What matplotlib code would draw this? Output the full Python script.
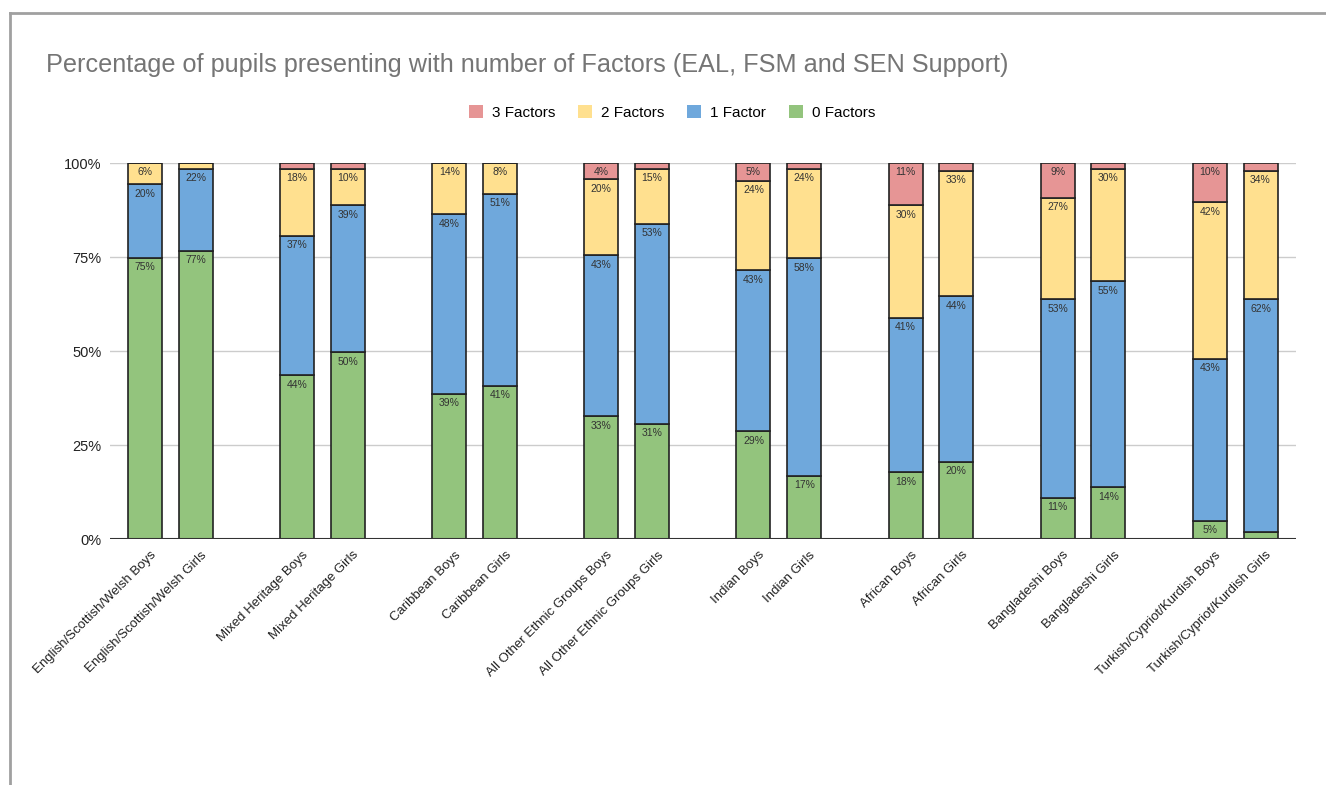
import numpy as np
import matplotlib.pyplot as plt
from matplotlib.lines import Line2D
from matplotlib.patches import Patch

plt.rcParams['font.family'] = ['Liberation Sans', 'DejaVu Sans']

# pupils groups, boys and girls side by side
groups = ["English/Scottish/Welsh", "Mixed Heritage", "Caribbean",
          "All Other Ethnic Groups", "Indian", "African", "Bangladeshi",
          "Turkish/Cypriot/Kurdish"]
labels = [g + " " + s for g in groups for s in ("Boys", "Girls")]

# percentages (bottom to top)
zero_factors = [74.8, 76.6, 43.6, 49.7, 38.6, 40.7, 32.7, 30.6,
                28.7, 16.8, 17.8, 20.5, 10.9, 13.8, 4.8, 1.9]
one_factor = [19.6, 21.8, 37.0, 39.1, 47.8, 51.1, 42.8, 53.2,
              42.8, 57.9, 41.0, 44.1, 52.9, 54.8, 43.1, 61.9]
two_factors = [5.6, 1.6, 17.8, 9.6, 13.6, 8.2, 20.2, 14.6,
               23.9, 23.7, 30.0, 33.3, 26.9, 29.8, 41.7, 34.1]
three_factors = [0.0, 0.0, 1.6, 1.6, 0.0, 0.0, 4.3, 1.6,
                 4.6, 1.6, 11.2, 2.1, 9.3, 1.6, 10.4, 2.1]

series = [("0 Factors", zero_factors, "#93c47d"),
          ("1 Factor", one_factor, "#6fa8dc"),
          ("2 Factors", two_factors, "#ffe08f"),
          ("3 Factors", three_factors, "#e69595")]

x = np.array([g * 3 + j for g in range(len(groups)) for j in range(2)], dtype=float)

fig = plt.figure(figsize=(13.26, 7.85), dpi=100)
ax = fig.add_axes([0.083, 0.313, 0.894, 0.479])

bottom = np.zeros(len(labels))
for name, vals, col in series:
    vals = np.array(vals)
    ax.bar(x, vals, bottom=bottom, width=0.67, color=col,
           edgecolor="#222222", linewidth=1.2, zorder=3)
    for xi, b, v in zip(x, bottom, vals):
        if v >= 3.5:
            ax.annotate("%d%%" % round(v), (xi, b + v), xytext=(0, -3),
                        textcoords="offset points", ha="center", va="top",
                        fontsize=7.5, color="#333333", zorder=4)
    bottom += vals

ax.set_ylim(0, 100)
ax.set_xlim(-0.69, 22.69)
ax.set_yticks([0, 25, 50, 75, 100])
ax.set_yticklabels(["0%", "25%", "50%", "75%", "100%"])
ax.yaxis.grid(True, color="#cccccc", linewidth=1, zorder=0)
ax.axhline(0, color="#333333", linewidth=1.5, zorder=5)
for s in ax.spines.values():
    s.set_visible(False)
ax.tick_params(axis="both", length=0, labelsize=10.5, colors="#222222")
ax.tick_params(axis="y", pad=6)
ax.tick_params(axis="x", pad=7)
ax.set_xticks(x + 0.1)
ax.set_xticklabels(labels, rotation=45, ha="right", rotation_mode="anchor",
                   fontsize=9.5)

fig.text(0.035, 0.917, "Percentage of pupils presenting with number of Factors (EAL, FSM and SEN Support)",
         fontsize=18.2, color="#757575", va="center")

handles = [Patch(facecolor=c, edgecolor="none") for _, _, c in series[::-1]]
names = [n for n, _, _ in series[::-1]]
fig.legend(handles, names, loc="center", bbox_to_anchor=(0.507, 0.857),
           ncol=4, frameon=False, fontsize=11, handlelength=0.9,
           handleheight=0.9, columnspacing=1.5, handletextpad=0.6)

# screenshot frame
fig.add_artist(Line2D([0.0075, 1.0], [0.983, 0.983], color="#a0a0a0", linewidth=2))
fig.add_artist(Line2D([0.0075, 0.0075], [0.0, 0.983], color="#a0a0a0", linewidth=2))

fig.savefig("out.png", dpi=100)
